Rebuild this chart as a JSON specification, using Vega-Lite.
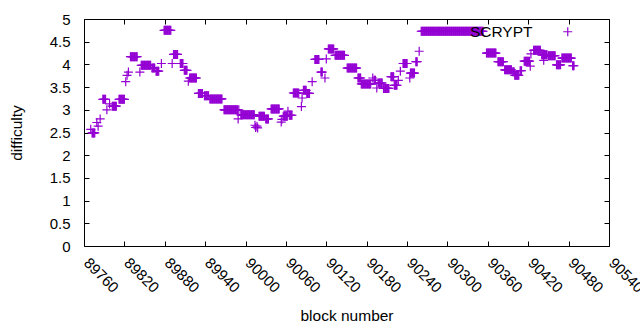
{
"$schema": "https://vega.github.io/schema/vega-lite/v6.json",
"width": 525, "height": 227,
"autosize": {"type": "none"},
"padding": {"left": 84, "top": 19, "right": 31, "bottom": 84},
"background": "white",
"config": {
 "view": {"stroke": "black", "strokeWidth": 1},
 "font": "Liberation Sans",
 "axis": {"grid": false, "domain": false, "tickColor": "black", "tickSize": -5, "tickWidth": 1, "labelFont": "Liberation Sans", "labelFontSize": 15, "labelColor": "black", "titleFont": "Liberation Sans", "titleFontSize": 15.5, "titleFontWeight": "normal", "titleColor": "black"},
 "legend": {"labelFont": "Liberation Sans", "labelFontSize": 15.5, "labelColor": "black"}
},
"data": {"values": [
{"block":89770,"diff":2.57},
{"block":89772,"diff":2.49},{"block":89773,"diff":2.49},{"block":89774,"diff":2.49},{"block":89775,"diff":2.49},{"block":89776,"diff":2.49},
{"block":89779,"diff":2.72},{"block":89781,"diff":2.64},{"block":89784,"diff":2.8},
{"block":89788,"diff":3.23},{"block":89789,"diff":3.23},{"block":89790,"diff":3.23},{"block":89791,"diff":3.23},{"block":89792,"diff":3.23},
{"block":89794,"diff":3.0},{"block":89798,"diff":3.13},
{"block":89802,"diff":3.08},{"block":89803,"diff":3.08},{"block":89804,"diff":3.08},{"block":89805,"diff":3.08},{"block":89806,"diff":3.08},{"block":89807,"diff":3.08},{"block":89808,"diff":3.08},
{"block":89812,"diff":3.23},{"block":89813,"diff":3.23},{"block":89814,"diff":3.23},{"block":89815,"diff":3.23},{"block":89816,"diff":3.23},{"block":89817,"diff":3.23},{"block":89818,"diff":3.23},{"block":89819,"diff":3.23},{"block":89820,"diff":3.23},
{"block":89822,"diff":3.62},{"block":89824,"diff":3.76},{"block":89826,"diff":3.83},
{"block":89829,"diff":4.17},{"block":89830,"diff":4.17},{"block":89831,"diff":4.17},{"block":89832,"diff":4.17},{"block":89833,"diff":4.17},{"block":89834,"diff":4.17},{"block":89835,"diff":4.17},{"block":89836,"diff":4.17},{"block":89837,"diff":4.17},{"block":89838,"diff":4.17},{"block":89839,"diff":4.17},
{"block":89843,"diff":3.83},
{"block":89845,"diff":3.98},{"block":89846,"diff":3.98},{"block":89847,"diff":3.98},{"block":89848,"diff":3.98},{"block":89849,"diff":3.98},{"block":89850,"diff":3.98},{"block":89851,"diff":3.98},{"block":89852,"diff":3.98},{"block":89853,"diff":3.98},{"block":89854,"diff":3.98},{"block":89855,"diff":3.98},{"block":89856,"diff":3.98},{"block":89857,"diff":3.98},{"block":89858,"diff":3.98},{"block":89859,"diff":3.98},
{"block":89861,"diff":3.92},{"block":89862,"diff":3.92},{"block":89863,"diff":3.92},{"block":89864,"diff":3.92},{"block":89865,"diff":3.92},
{"block":89867,"diff":3.85},{"block":89868,"diff":3.85},{"block":89869,"diff":3.85},{"block":89870,"diff":3.85},{"block":89871,"diff":3.85},
{"block":89875,"diff":4.02},
{"block":89879,"diff":4.75},{"block":89880,"diff":4.75},{"block":89881,"diff":4.75},{"block":89882,"diff":4.75},{"block":89883,"diff":4.75},{"block":89884,"diff":4.75},{"block":89885,"diff":4.75},{"block":89886,"diff":4.75},{"block":89887,"diff":4.75},{"block":89888,"diff":4.75},{"block":89889,"diff":4.75},
{"block":89891,"diff":4.02},
{"block":89893,"diff":4.22},{"block":89894,"diff":4.22},{"block":89895,"diff":4.22},{"block":89896,"diff":4.22},{"block":89897,"diff":4.22},{"block":89898,"diff":4.22},{"block":89899,"diff":4.22},
{"block":89903,"diff":4.02},{"block":89904,"diff":4.02},{"block":89905,"diff":4.02},{"block":89906,"diff":4.02},{"block":89907,"diff":4.02},
{"block":89909,"diff":3.87},{"block":89910,"diff":3.87},{"block":89911,"diff":3.87},{"block":89912,"diff":3.87},{"block":89913,"diff":3.87},
{"block":89915,"diff":3.63},
{"block":89917,"diff":3.7},{"block":89918,"diff":3.7},{"block":89919,"diff":3.7},{"block":89920,"diff":3.7},{"block":89921,"diff":3.7},{"block":89922,"diff":3.7},{"block":89923,"diff":3.7},{"block":89924,"diff":3.7},{"block":89925,"diff":3.7},{"block":89926,"diff":3.7},{"block":89927,"diff":3.7},
{"block":89930,"diff":3.36},{"block":89931,"diff":3.36},{"block":89932,"diff":3.36},{"block":89933,"diff":3.36},{"block":89934,"diff":3.36},{"block":89935,"diff":3.36},{"block":89936,"diff":3.36},
{"block":89939,"diff":3.31},{"block":89940,"diff":3.31},{"block":89941,"diff":3.31},{"block":89942,"diff":3.31},{"block":89943,"diff":3.31},{"block":89944,"diff":3.31},{"block":89945,"diff":3.31},
{"block":89947,"diff":3.24},{"block":89948,"diff":3.24},{"block":89949,"diff":3.24},{"block":89950,"diff":3.24},{"block":89951,"diff":3.24},{"block":89952,"diff":3.24},{"block":89953,"diff":3.24},{"block":89954,"diff":3.24},{"block":89955,"diff":3.24},{"block":89956,"diff":3.24},{"block":89957,"diff":3.24},{"block":89958,"diff":3.24},{"block":89959,"diff":3.24},{"block":89960,"diff":3.24},{"block":89961,"diff":3.24},{"block":89962,"diff":3.24},{"block":89963,"diff":3.24},{"block":89964,"diff":3.24},{"block":89965,"diff":3.24},
{"block":89968,"diff":3.0},{"block":89969,"diff":3.0},{"block":89970,"diff":3.0},{"block":89971,"diff":3.0},{"block":89972,"diff":3.0},{"block":89973,"diff":3.0},{"block":89974,"diff":3.0},{"block":89975,"diff":3.0},{"block":89976,"diff":3.0},{"block":89977,"diff":3.0},{"block":89978,"diff":3.0},{"block":89979,"diff":3.0},{"block":89980,"diff":3.0},{"block":89981,"diff":3.0},{"block":89982,"diff":3.0},{"block":89983,"diff":3.0},{"block":89984,"diff":3.0},{"block":89985,"diff":3.0},{"block":89986,"diff":3.0},{"block":89987,"diff":3.0},{"block":89988,"diff":3.0},{"block":89990,"diff":3.0},
{"block":89989,"diff":2.8},
{"block":89993,"diff":2.89},{"block":89994,"diff":2.89},{"block":89995,"diff":2.89},{"block":89996,"diff":2.89},{"block":89997,"diff":2.89},{"block":89998,"diff":2.89},{"block":89999,"diff":2.89},{"block":90000,"diff":2.89},{"block":90001,"diff":2.89},{"block":90002,"diff":2.89},{"block":90003,"diff":2.89},{"block":90004,"diff":2.89},{"block":90005,"diff":2.89},{"block":90006,"diff":2.89},{"block":90007,"diff":2.89},{"block":90008,"diff":2.89},{"block":90009,"diff":2.89},{"block":90010,"diff":2.89},{"block":90011,"diff":2.89},{"block":90012,"diff":2.89},{"block":90013,"diff":2.89},
{"block":90014,"diff":2.66},{"block":90015,"diff":2.61},{"block":90017,"diff":2.64},{"block":90018,"diff":2.6},
{"block":90020,"diff":2.86},{"block":90021,"diff":2.86},{"block":90022,"diff":2.86},{"block":90023,"diff":2.86},{"block":90024,"diff":2.86},{"block":90025,"diff":2.86},{"block":90026,"diff":2.86},{"block":90027,"diff":2.86},{"block":90028,"diff":2.86},
{"block":90030,"diff":2.8},{"block":90031,"diff":2.8},{"block":90032,"diff":2.8},{"block":90033,"diff":2.8},{"block":90034,"diff":2.8},
{"block":90038,"diff":3.02},{"block":90039,"diff":3.02},{"block":90040,"diff":3.02},{"block":90041,"diff":3.02},{"block":90042,"diff":3.02},{"block":90043,"diff":3.02},{"block":90044,"diff":3.02},{"block":90045,"diff":3.02},{"block":90046,"diff":3.02},{"block":90047,"diff":3.02},{"block":90048,"diff":3.02},{"block":90049,"diff":3.02},{"block":90050,"diff":3.02},
{"block":90053,"diff":2.73},{"block":90054,"diff":2.79},
{"block":90056,"diff":2.86},{"block":90057,"diff":2.86},{"block":90058,"diff":2.86},{"block":90059,"diff":2.86},{"block":90060,"diff":2.86},{"block":90061,"diff":2.86},{"block":90062,"diff":2.86},
{"block":90063,"diff":2.97},
{"block":90065,"diff":2.88},{"block":90066,"diff":2.88},{"block":90067,"diff":2.88},{"block":90068,"diff":2.88},{"block":90069,"diff":2.88},
{"block":90071,"diff":3.37},{"block":90072,"diff":3.37},{"block":90073,"diff":3.37},{"block":90074,"diff":3.37},{"block":90075,"diff":3.37},{"block":90076,"diff":3.37},{"block":90077,"diff":3.37},{"block":90078,"diff":3.37},{"block":90079,"diff":3.37},
{"block":90083,"diff":3.07},{"block":90084,"diff":3.26},
{"block":90086,"diff":3.43},{"block":90087,"diff":3.43},{"block":90088,"diff":3.43},{"block":90089,"diff":3.43},{"block":90090,"diff":3.43},
{"block":90091,"diff":3.36},{"block":90092,"diff":3.36},{"block":90093,"diff":3.36},{"block":90094,"diff":3.36},{"block":90095,"diff":3.36},
{"block":90099,"diff":3.62},
{"block":90103,"diff":4.11},{"block":90104,"diff":4.11},{"block":90105,"diff":4.11},{"block":90106,"diff":4.11},{"block":90107,"diff":4.11},{"block":90108,"diff":4.11},{"block":90109,"diff":4.11},
{"block":90112,"diff":3.83},{"block":90113,"diff":3.83},{"block":90114,"diff":3.83},{"block":90118,"diff":3.7},{"block":90120,"diff":4.12},
{"block":90123,"diff":4.34},{"block":90124,"diff":4.34},{"block":90125,"diff":4.34},{"block":90126,"diff":4.34},{"block":90127,"diff":4.34},{"block":90128,"diff":4.34},{"block":90129,"diff":4.34},{"block":90130,"diff":4.34},{"block":90131,"diff":4.34},
{"block":90133,"diff":4.2},{"block":90134,"diff":4.2},{"block":90135,"diff":4.2},{"block":90136,"diff":4.2},{"block":90137,"diff":4.2},{"block":90138,"diff":4.2},{"block":90139,"diff":4.2},{"block":90140,"diff":4.2},{"block":90141,"diff":4.2},{"block":90142,"diff":4.2},{"block":90143,"diff":4.2},{"block":90144,"diff":4.2},{"block":90145,"diff":4.2},{"block":90146,"diff":4.2},{"block":90147,"diff":4.2},
{"block":90151,"diff":3.92},{"block":90152,"diff":3.92},{"block":90153,"diff":3.92},{"block":90154,"diff":3.92},{"block":90155,"diff":3.92},{"block":90156,"diff":3.92},{"block":90157,"diff":3.92},{"block":90158,"diff":3.92},{"block":90159,"diff":3.92},{"block":90160,"diff":3.92},{"block":90161,"diff":3.92},{"block":90162,"diff":3.92},{"block":90163,"diff":3.92},{"block":90164,"diff":3.92},{"block":90165,"diff":3.92},
{"block":90167,"diff":3.7},{"block":90168,"diff":3.7},{"block":90169,"diff":3.7},{"block":90170,"diff":3.7},{"block":90171,"diff":3.7},
{"block":90172,"diff":3.57},{"block":90173,"diff":3.57},{"block":90174,"diff":3.57},{"block":90175,"diff":3.57},{"block":90176,"diff":3.57},{"block":90177,"diff":3.57},{"block":90178,"diff":3.57},{"block":90179,"diff":3.57},{"block":90180,"diff":3.57},{"block":90181,"diff":3.57},{"block":90182,"diff":3.57},{"block":90183,"diff":3.57},{"block":90184,"diff":3.57},{"block":90185,"diff":3.57},{"block":90186,"diff":3.57},
{"block":90189,"diff":3.7},{"block":90191,"diff":3.65},{"block":90192,"diff":3.65},{"block":90193,"diff":3.65},{"block":90195,"diff":3.48},
{"block":90197,"diff":3.59},{"block":90198,"diff":3.59},{"block":90199,"diff":3.59},{"block":90200,"diff":3.59},{"block":90201,"diff":3.59},{"block":90202,"diff":3.59},{"block":90203,"diff":3.59},
{"block":90205,"diff":3.47},{"block":90206,"diff":3.47},{"block":90207,"diff":3.47},{"block":90208,"diff":3.47},{"block":90209,"diff":3.47},{"block":90210,"diff":3.47},{"block":90211,"diff":3.47},{"block":90212,"diff":3.47},{"block":90213,"diff":3.47},
{"block":90216,"diff":3.73},{"block":90217,"diff":3.73},{"block":90218,"diff":3.73},{"block":90219,"diff":3.73},{"block":90220,"diff":3.73},
{"block":90221,"diff":3.54},{"block":90222,"diff":3.54},{"block":90223,"diff":3.54},{"block":90224,"diff":3.54},{"block":90225,"diff":3.54},
{"block":90227,"diff":3.65},{"block":90230,"diff":3.85},
{"block":90234,"diff":4.02},{"block":90235,"diff":4.02},{"block":90236,"diff":4.02},{"block":90237,"diff":4.02},{"block":90238,"diff":4.02},{"block":90239,"diff":4.02},{"block":90240,"diff":4.02},
{"block":90244,"diff":3.7},
{"block":90245,"diff":3.81},{"block":90246,"diff":3.81},{"block":90247,"diff":3.81},{"block":90248,"diff":3.81},{"block":90249,"diff":3.81},{"block":90250,"diff":3.81},{"block":90251,"diff":3.81},
{"block":90253,"diff":4.06},{"block":90254,"diff":4.06},{"block":90255,"diff":4.06},{"block":90258,"diff":4.29},
{"block":90261,"diff":4.73},{"block":90262,"diff":4.73},{"block":90263,"diff":4.73},{"block":90264,"diff":4.73},{"block":90265,"diff":4.73},{"block":90266,"diff":4.73},{"block":90267,"diff":4.73},{"block":90268,"diff":4.73},{"block":90269,"diff":4.73},{"block":90270,"diff":4.73},
{"block":90271,"diff":4.73},{"block":90272,"diff":4.73},{"block":90273,"diff":4.73},{"block":90274,"diff":4.73},{"block":90275,"diff":4.73},{"block":90276,"diff":4.73},{"block":90277,"diff":4.73},{"block":90278,"diff":4.73},{"block":90279,"diff":4.73},{"block":90280,"diff":4.73},
{"block":90281,"diff":4.73},{"block":90282,"diff":4.73},{"block":90283,"diff":4.73},{"block":90284,"diff":4.73},{"block":90285,"diff":4.73},{"block":90286,"diff":4.73},{"block":90287,"diff":4.73},{"block":90288,"diff":4.73},{"block":90289,"diff":4.73},{"block":90290,"diff":4.73},
{"block":90291,"diff":4.73},{"block":90292,"diff":4.73},{"block":90293,"diff":4.73},{"block":90294,"diff":4.73},{"block":90295,"diff":4.73},{"block":90296,"diff":4.73},{"block":90297,"diff":4.73},{"block":90298,"diff":4.73},{"block":90299,"diff":4.73},{"block":90300,"diff":4.73},
{"block":90301,"diff":4.73},{"block":90302,"diff":4.73},{"block":90303,"diff":4.73},{"block":90304,"diff":4.73},{"block":90305,"diff":4.73},{"block":90306,"diff":4.73},{"block":90307,"diff":4.73},{"block":90308,"diff":4.73},{"block":90309,"diff":4.73},{"block":90310,"diff":4.73},
{"block":90311,"diff":4.73},{"block":90312,"diff":4.73},{"block":90313,"diff":4.73},{"block":90314,"diff":4.73},{"block":90315,"diff":4.73},{"block":90316,"diff":4.73},{"block":90317,"diff":4.73},{"block":90318,"diff":4.73},{"block":90319,"diff":4.73},{"block":90320,"diff":4.73},
{"block":90321,"diff":4.73},{"block":90322,"diff":4.73},{"block":90323,"diff":4.73},{"block":90324,"diff":4.73},{"block":90325,"diff":4.73},{"block":90326,"diff":4.73},{"block":90327,"diff":4.73},{"block":90328,"diff":4.73},{"block":90329,"diff":4.73},{"block":90330,"diff":4.73},
{"block":90331,"diff":4.73},{"block":90332,"diff":4.73},{"block":90333,"diff":4.73},{"block":90334,"diff":4.73},{"block":90335,"diff":4.73},{"block":90336,"diff":4.73},{"block":90337,"diff":4.73},{"block":90338,"diff":4.73},{"block":90339,"diff":4.73},{"block":90340,"diff":4.73},
{"block":90341,"diff":4.73},{"block":90342,"diff":4.73},{"block":90343,"diff":4.73},{"block":90344,"diff":4.73},{"block":90345,"diff":4.73},{"block":90346,"diff":4.73},{"block":90347,"diff":4.73},{"block":90348,"diff":4.73},{"block":90349,"diff":4.73},{"block":90350,"diff":4.73},
{"block":90351,"diff":4.73},{"block":90352,"diff":4.73},{"block":90353,"diff":4.73},
{"block":90358,"diff":4.25},{"block":90359,"diff":4.25},{"block":90360,"diff":4.25},{"block":90361,"diff":4.25},{"block":90362,"diff":4.25},{"block":90363,"diff":4.25},{"block":90364,"diff":4.25},{"block":90365,"diff":4.25},{"block":90366,"diff":4.25},{"block":90367,"diff":4.25},{"block":90368,"diff":4.25},{"block":90369,"diff":4.25},{"block":90370,"diff":4.25},{"block":90371,"diff":4.25},{"block":90372,"diff":4.25},
{"block":90375,"diff":4.06},{"block":90376,"diff":4.06},{"block":90377,"diff":4.06},{"block":90378,"diff":4.06},{"block":90379,"diff":4.06},{"block":90380,"diff":4.06},{"block":90381,"diff":4.06},{"block":90382,"diff":4.06},{"block":90383,"diff":4.06},
{"block":90385,"diff":3.88},{"block":90386,"diff":3.88},{"block":90387,"diff":3.88},{"block":90388,"diff":3.88},{"block":90389,"diff":3.88},{"block":90390,"diff":3.88},{"block":90391,"diff":3.88},{"block":90392,"diff":3.88},{"block":90393,"diff":3.88},{"block":90394,"diff":3.88},{"block":90395,"diff":3.88},
{"block":90397,"diff":3.84},{"block":90398,"diff":3.84},{"block":90399,"diff":3.84},
{"block":90400,"diff":3.76},{"block":90401,"diff":3.76},{"block":90402,"diff":3.76},{"block":90403,"diff":3.76},{"block":90404,"diff":3.76},{"block":90405,"diff":3.76},{"block":90406,"diff":3.76},
{"block":90408,"diff":3.86},{"block":90409,"diff":3.86},{"block":90410,"diff":3.86},
{"block":90414,"diff":4.07},{"block":90415,"diff":4.07},{"block":90416,"diff":4.07},{"block":90417,"diff":4.07},{"block":90418,"diff":4.07},{"block":90419,"diff":4.07},{"block":90420,"diff":4.07},{"block":90421,"diff":4.07},{"block":90422,"diff":4.07},
{"block":90423,"diff":3.96},{"block":90424,"diff":4.23},
{"block":90428,"diff":4.31},{"block":90429,"diff":4.31},{"block":90430,"diff":4.31},{"block":90431,"diff":4.31},{"block":90432,"diff":4.31},{"block":90433,"diff":4.31},{"block":90434,"diff":4.31},{"block":90435,"diff":4.31},{"block":90436,"diff":4.31},{"block":90437,"diff":4.31},{"block":90438,"diff":4.31},
{"block":90440,"diff":4.21},{"block":90441,"diff":4.21},{"block":90442,"diff":4.21},{"block":90443,"diff":4.21},{"block":90444,"diff":4.21},{"block":90445,"diff":4.21},{"block":90446,"diff":4.21},{"block":90447,"diff":4.21},{"block":90448,"diff":4.21},
{"block":90443,"diff":4.09},
{"block":90450,"diff":4.19},{"block":90451,"diff":4.19},{"block":90452,"diff":4.19},{"block":90453,"diff":4.19},{"block":90454,"diff":4.19},{"block":90455,"diff":4.19},{"block":90456,"diff":4.19},{"block":90457,"diff":4.19},{"block":90458,"diff":4.19},{"block":90459,"diff":4.19},{"block":90460,"diff":4.19},
{"block":90462,"diff":3.99},{"block":90463,"diff":3.99},{"block":90464,"diff":3.99},{"block":90465,"diff":3.99},{"block":90466,"diff":3.99},{"block":90467,"diff":3.99},{"block":90468,"diff":3.99},
{"block":90470,"diff":4.14},{"block":90471,"diff":4.14},{"block":90472,"diff":4.14},{"block":90473,"diff":4.14},{"block":90474,"diff":4.14},{"block":90475,"diff":4.14},{"block":90476,"diff":4.14},{"block":90477,"diff":4.14},{"block":90478,"diff":4.14},{"block":90479,"diff":4.14},{"block":90480,"diff":4.14},{"block":90481,"diff":4.14},{"block":90482,"diff":4.14},{"block":90483,"diff":4.14},{"block":90484,"diff":4.14},
{"block":90486,"diff":3.97},{"block":90487,"diff":3.97},{"block":90488,"diff":3.97}
]},
"layer": [
 {"mark": {"type": "point", "shape": "M-1,0H1M0,-1V1", "size": 81, "filled": false, "opacity": 1, "strokeWidth": 1.2, "strokeCap": "butt"},
  "encoding": {
   "x": {"field": "block", "type": "quantitative", "scale": {"domain": [89760, 90540], "nice": false, "zero": false},
     "axis": {"values": [89760,89820,89880,89940,90000,90060,90120,90180,90240,90300,90360,90420,90480,90540], "format": "d", "labelAngle": 45, "labelAlign": "left", "labelBaseline": "middle", "labelPadding": 19, "labelOffset": 2, "title": "block number", "titlePadding": 13}},
   "y": {"field": "diff", "type": "quantitative", "scale": {"domain": [0, 5], "nice": false, "zero": true},
     "axis": {"values": [0,0.5,1,1.5,2,2.5,3,3.5,4,4.5,5], "format": "~g", "labelPadding": 19, "title": "difficulty", "titlePadding": 25}},
   "color": {"datum": "SCRYPT", "scale": {"domain": ["SCRYPT"], "range": ["#9400d3"]},
     "legend": {"title": null, "orient": "none", "legendX": 476, "legendY": 5, "padding": 0, "labelAlign": "right", "labelOffset": -43, "symbolType": "M-1,0H1M0,-1V1", "symbolSize": 81, "symbolStrokeWidth": 1.2, "symbolFillColor": "transparent"}}
  }},
 {"mark": {"type": "point", "opacity": 0},
  "encoding": {
   "x": {"field": "block", "type": "quantitative", "axis": {"orient": "top", "values": [89760,89820,89880,89940,90000,90060,90120,90180,90240,90300,90360,90420,90480,90540], "labels": false, "title": null}},
   "y": {"field": "diff", "type": "quantitative", "axis": {"orient": "right", "values": [0,0.5,1,1.5,2,2.5,3,3.5,4,4.5,5], "labels": false, "title": null}}
  }}
],
"resolve": {"axis": {"x": "independent", "y": "independent"}}
}
